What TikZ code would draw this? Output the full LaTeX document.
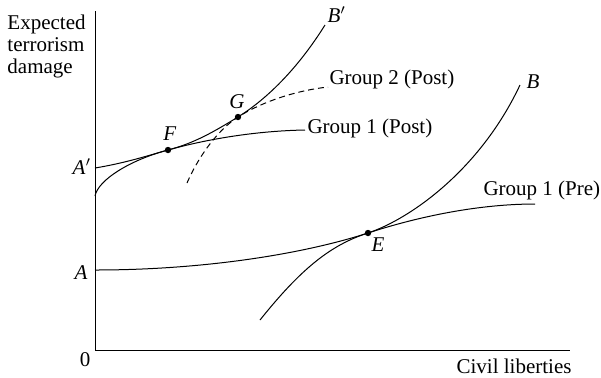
\documentclass[tikz,border=0pt]{standalone}
\usepackage{fontspec}
\setmainfont{Liberation Serif}
\usetikzlibrary{positioning}

\begin{document}
\begin{tikzpicture}[x=0.5pt, y=-0.5pt, line width=0.5pt,
  every node/.style={inner sep=0pt, font=\fontsize{10.5}{11}\selectfont},
  dot/.style={circle, fill=black, minimum size=3.2pt},
  post/.style={dash pattern=on 3pt off 2pt}]
\useasboundingbox (0,0) rectangle (601,377);
% axes
\coordinate (O) at (95,350);
\coordinate (Ytop) at (95,11);
\coordinate (Xend) at (570,350);
\draw (Ytop) -- (O) -- (Xend);
\node[anchor=north west, align=left] (ylab) at (7,14) {Expected\\terrorism\\damage};
\node[anchor=base east] (xlab) at (572,373) {Civil liberties};
\node[anchor=base] (zero) at (85,366) {0};
% tangency points
\node[dot] (E) at (368,233) {};
\node[dot] (F) at (168,150) {};
\node[dot] (G) at (238,117) {};
\node[anchor=base] (Elab) at (378,251) {\textit{E}};
\node[anchor=base] (Flab) at (170,140) {\textit{F}};
\node[anchor=base] (Glab) at (237,108) {\textit{G}};
% curve ends
\coordinate (A) at (95,270);
\coordinate (Ap) at (95,168);
\coordinate (Bstart) at (260,320);
\coordinate (Bend) at (520,85);
\coordinate (Bpstart) at (95,196);
\coordinate (Bpend) at (325,25);
\coordinate (Pre) at (535,204);
\coordinate (Post1) at (305,130);
\coordinate (Post2start) at (187,183);
\coordinate (Post2) at (328,87);
\node[anchor=base] (Alab) at (81,279) {\textit{A}};
\node[anchor=base] (Aplab) at (82,174) {\textit{A}$'$};
\node[anchor=base west] (Blab) at (526,88) {\textit{B}};
\node[anchor=base west] (Bplab) at (327,22) {\textit{B}$'$};
\node[anchor=base west] (Prelab) at (483,195) {Group 1 (Pre)};
\node[anchor=base west] (Post1lab) at (307,133) {Group 1 (Post)};
\node[anchor=base west] (Post2lab) at (329,84) {Group 2 (Post)};
% Group 1 (Pre) and B
\draw (A) .. controls (200,270) and (300,255) .. (E.center) .. controls (420,216) and (480,204) .. (Pre);
\draw (Bstart) .. controls (300,270) and (330,245) .. (E.center) .. controls (410,219) and (480,170) .. (Bend);
% Group 1 (Post) and B'
\draw (Ap) .. controls (125,163) and (145,156.5) .. (F.center) .. controls (200,141) and (250,131) .. (Post1);
\draw (Bpstart) .. controls (98,180) and (130,160) .. (F.center) .. controls (195,143) and (215,131) .. (G.center) .. controls (270,97) and (300,65) .. (Bpend);
% Group 2 (Post)
\draw[post] (Post2start) .. controls (197,160) and (215,132) .. (G.center) .. controls (265,100) and (300,90) .. (Post2);
\end{tikzpicture}
\end{document}
